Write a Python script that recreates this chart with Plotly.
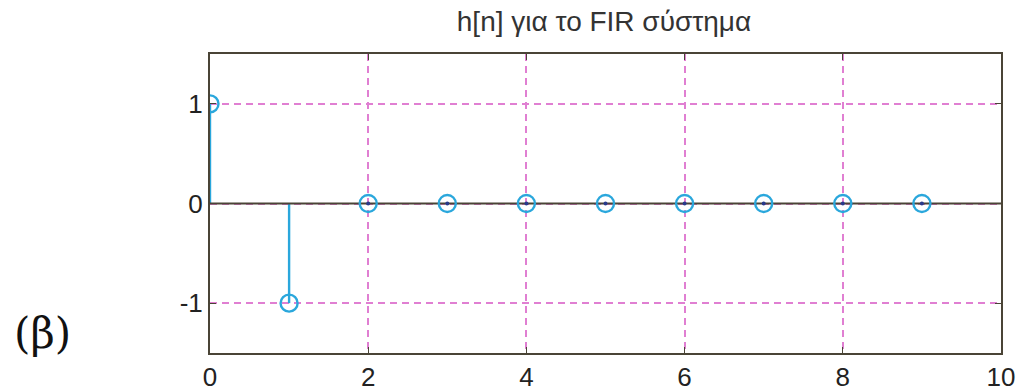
import plotly.graph_objects as go

n = [0, 1, 2, 3, 4, 5, 6, 7, 8, 9]
h = [1, -1, 0, 0, 0, 0, 0, 0, 0, 0]
title = "h[n] για το FIR σύστημα"
label = "(β)"
xticks = [0, 2, 4, 6, 8, 10]
yticks = [-1, 0, 1]

stem_color = "#2aa7dc"
grid_color = "#e07fd2"
axis_color = "#4a4436"

fig = go.Figure()

# stems
sx, sy = [], []
for xi, yi in zip(n, h):
    sx += [xi, xi, None]
    sy += [0, yi, None]
fig.add_trace(go.Scatter(x=sx, y=sy, mode="lines",
                         line=dict(color=stem_color, width=2.4),
                         hoverinfo="skip", showlegend=False))
# baseline
fig.add_trace(go.Scatter(x=[0, 10], y=[0, 0], mode="lines",
                         line=dict(color=axis_color, width=2.2),
                         hoverinfo="skip", showlegend=False))
# small dark dots on zero-valued samples
zx = [xi for xi, yi in zip(n, h) if yi == 0]
zy = [0 for _ in zx]
fig.add_trace(go.Scatter(x=zx, y=zy, mode="markers",
                         marker=dict(color="#283a8c", size=4),
                         hoverinfo="skip", showlegend=False))
# circle markers
fig.add_trace(go.Scatter(x=n, y=h, mode="markers",
                         marker=dict(symbol="circle-open", color=stem_color, size=17,
                                     line=dict(width=2.4, color=stem_color)),
                         showlegend=False))

fig.update_layout(
    width=1019, height=392,
    margin=dict(l=210, r=18, t=54, b=39),
    paper_bgcolor="white", plot_bgcolor="white",
    font=dict(family="Liberation Sans, Arial", color="#222222"),
    title=dict(text=title, x=(604 - 210) / 791, xref="paper", xanchor="center",
               y=1 - 21 / 392, yanchor="middle", automargin=False,
               font=dict(size=28, color="#333333")),
    xaxis=dict(range=[0, 10], tickvals=xticks, ticktext=[str(t) for t in xticks],
               showgrid=True, gridcolor=grid_color, griddash="7px,5px", gridwidth=1.6,
               zeroline=False, showline=True, linecolor=axis_color, linewidth=2,
               mirror="ticks", ticks="inside", ticklen=6, tickcolor=axis_color,
               automargin=False,
               tickfont=dict(size=26, color="#222222")),
    yaxis=dict(range=[-1.5, 1.5], tickvals=yticks, ticktext=["-1", "0", "1"],
               showgrid=True, gridcolor=grid_color, griddash="7px,5px", gridwidth=1.6,
               zeroline=False, showline=True, linecolor=axis_color, linewidth=2,
               mirror="ticks", ticks="inside", ticklen=6, tickcolor=axis_color,
               automargin=False,
               tickfont=dict(size=26, color="#222222")),
    annotations=[dict(text=label, xref="paper", yref="paper", x=(12 - 210) / 791,
                      y=(353 - 333) / 299,
                      xanchor="left", yanchor="middle", showarrow=False,
                      font=dict(family="DejaVu Serif, Liberation Serif", size=42, color="#111111"))],
)

fig.write_html("out.html", config={"displayModeBar": False},
               post_script="document.body.style.margin='0';document.body.style.overflow='hidden';")
